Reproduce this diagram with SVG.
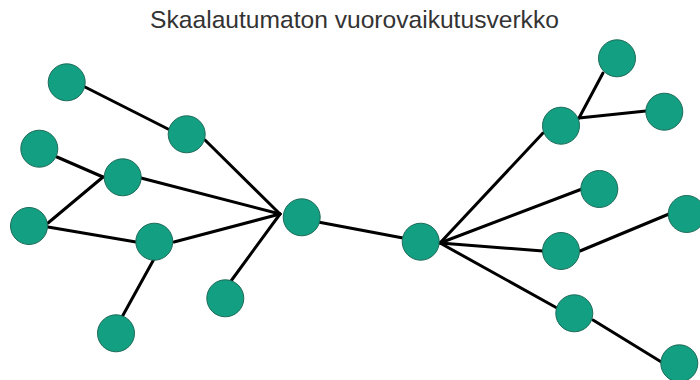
<svg xmlns="http://www.w3.org/2000/svg" width="700" height="380" viewBox="0 0 700 380">
<style>
.n{fill:#139f82;stroke:#1d6b59;stroke-width:1}
.e{stroke:#000;stroke-width:3;fill:none;stroke-linecap:round}
.t{font-family:"Liberation Sans",Arial,sans-serif;font-size:24.6px;fill:#333}
</style>
<rect width="700" height="380" fill="#fff"/>
<text class="t" x="354.5" y="27.5" text-anchor="middle">Skaalautumaton vuorovaikutusverkko</text>
<g id="edges">
<line class="e" x1="85" y1="87" x2="168" y2="129"/>
<line class="e" x1="205" y1="140" x2="280" y2="214"/>
<line class="e" x1="57" y1="157" x2="103" y2="177"/>
<line class="e" x1="103" y1="177" x2="48" y2="223"/>
<line class="e" x1="141" y1="178" x2="280" y2="214"/>
<line class="e" x1="48" y1="227" x2="136" y2="242"/>
<line class="e" x1="174" y1="242" x2="280" y2="214"/>
<line class="e" x1="154" y1="259" x2="122" y2="317"/>
<line class="e" x1="231" y1="281" x2="280" y2="214"/>
<line class="e" x1="318" y1="222" x2="403" y2="238"/>
<line class="e" x1="440" y1="243" x2="543" y2="133"/>
<line class="e" x1="440" y1="243" x2="582" y2="189"/>
<line class="e" x1="440" y1="243" x2="543" y2="251"/>
<line class="e" x1="440" y1="243" x2="557" y2="308"/>
<line class="e" x1="579" y1="118" x2="603" y2="73"/>
<line class="e" x1="579" y1="118" x2="646" y2="111"/>
<line class="e" x1="580" y1="251" x2="669" y2="214"/>
<line class="e" x1="593" y1="320" x2="663" y2="363"/>
</g>
<g id="nA"><circle class="n" cx="66.7" cy="82.3" r="18.5"/></g>
<g id="nB"><circle class="n" cx="186.7" cy="134.3" r="18.5"/></g>
<g id="nC"><circle class="n" cx="39.3" cy="148.7" r="18.5"/></g>
<g id="nD"><circle class="n" cx="122.7" cy="177.3" r="18.5"/></g>
<g id="nE"><circle class="n" cx="29" cy="226" r="18.5"/></g>
<g id="nF"><circle class="n" cx="154.3" cy="241.7" r="18.5"/></g>
<g id="nG"><circle class="n" cx="301.7" cy="217.3" r="18.5"/></g>
<g id="nH"><circle class="n" cx="225.3" cy="298.3" r="18.5"/></g>
<g id="nI"><circle class="n" cx="116" cy="333.3" r="18.5"/></g>
<g id="nJ"><circle class="n" cx="420.7" cy="241.7" r="18.5"/></g>
<g id="nK"><circle class="n" cx="561" cy="125.7" r="18.5"/></g>
<g id="nL"><circle class="n" cx="617" cy="58.3" r="18.5"/></g>
<g id="nM"><circle class="n" cx="664.3" cy="111.7" r="18.5"/></g>
<g id="nN"><circle class="n" cx="599.3" cy="189" r="18.5"/></g>
<g id="nO"><circle class="n" cx="561" cy="251" r="18.5"/></g>
<g id="nP"><circle class="n" cx="686.7" cy="214" r="18.5"/></g>
<g id="nQ"><circle class="n" cx="574.3" cy="313.3" r="18.5"/></g>
<g id="nR"><circle class="n" cx="679.3" cy="363.3" r="18.5"/></g>
</svg>
